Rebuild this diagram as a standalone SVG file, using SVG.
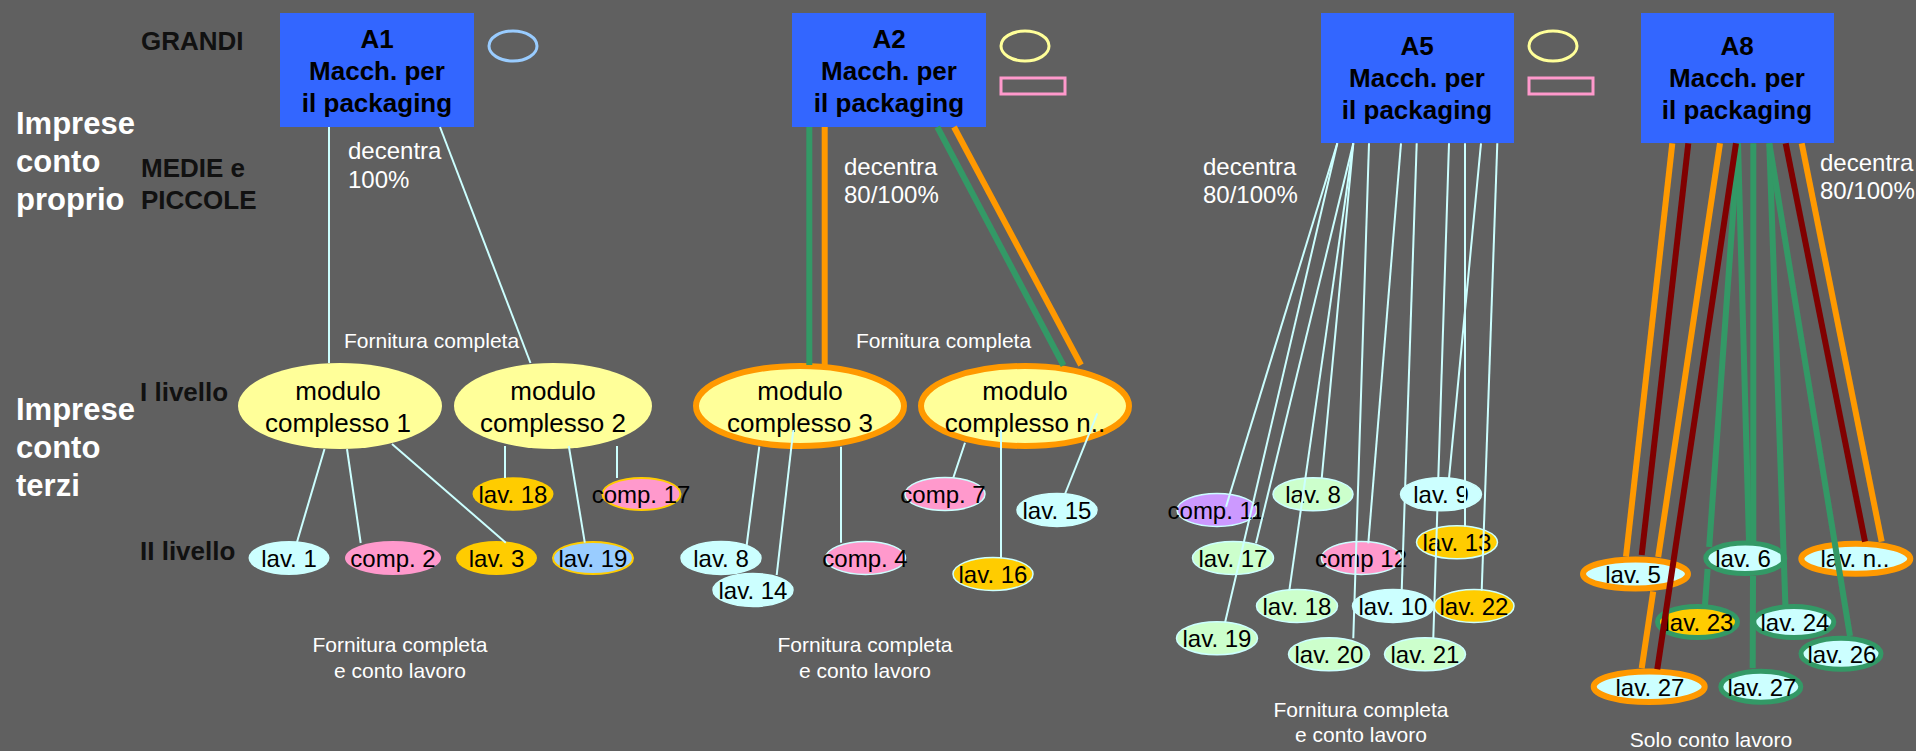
<svg xmlns="http://www.w3.org/2000/svg" width="1916" height="751" viewBox="0 0 1916 751">
<style>
text{font-family:"Liberation Sans",Arial,sans-serif}
.box{fill:#3366FF}
.bt{font-size:26px;font-weight:bold;fill:#000;text-anchor:middle}
.lbl{font-size:26px;font-weight:bold;fill:#111}
.big{font-size:31px;font-weight:bold;fill:#fff}
.note{font-size:24px;fill:#fff}
.note2{font-size:21px;fill:#fff}
.c2{text-anchor:middle}
.nt{font-size:24px;fill:#000;text-anchor:middle}
.mt{font-size:26px;fill:#000;text-anchor:middle}
.mod{fill:#FFFF99}
.modo{fill:#FFFF99;stroke:#FF9900;stroke-width:6}
.cy{fill:#CCFFFF}.pk{fill:#FF99CC}.gd{fill:#FFCC00}.lb{fill:#99CCFF}.lg{fill:#CCFFCC}.lv{fill:#CC99FF}
.sb{stroke:#CCFFFF;stroke-width:1.5}
.sy{stroke:#FFCC00;stroke-width:2}
.so{stroke:#FF9900;stroke-width:6}
.sg{stroke:#339966;stroke-width:5}
.t{stroke:#CCFFFF;stroke-width:2;fill:none}
.G{stroke:#339966;stroke-width:6;fill:none}
.O{stroke:#FF9900;stroke-width:6;fill:none}
.R{stroke:#800000;stroke-width:6;fill:none}
</style>
<rect x="0" y="0" width="1916" height="751" fill="#606060"/>

<g id="labels">
<text class="lbl" x="141" y="50">GRANDI</text>
<text class="lbl" x="141" y="177">MEDIE e</text>
<text class="lbl" x="141" y="209">PICCOLE</text>
<text class="big" x="16" y="134">Imprese</text>
<text class="big" x="16" y="172">conto</text>
<text class="big" x="16" y="210">proprio</text>
<text class="lbl" x="140" y="401">I livello</text>
<text class="lbl" x="140" y="560">II livello</text>
<text class="big" x="16" y="420">Imprese</text>
<text class="big" x="16" y="458">conto</text>
<text class="big" x="16" y="496">terzi</text>
<text class="note" x="348" y="159">decentra</text>
<text class="note" x="348" y="188">100%</text>
<text class="note" x="844" y="175">decentra</text>
<text class="note" x="844" y="203">80/100%</text>
<text class="note" x="1203" y="175">decentra</text>
<text class="note" x="1203" y="203">80/100%</text>
<text class="note" x="1820" y="171">decentra</text>
<text class="note" x="1820" y="199">80/100%</text>
<text class="note2" x="344" y="348">Fornitura completa</text>
<text class="note2" x="856" y="348">Fornitura completa</text>
<text class="note2 c2" x="400" y="652">Fornitura completa</text>
<text class="note2 c2" x="400" y="678">e conto lavoro</text>
<text class="note2 c2" x="865" y="652">Fornitura completa</text>
<text class="note2 c2" x="865" y="678">e conto lavoro</text>
<text class="note2 c2" x="1361" y="717">Fornitura completa</text>
<text class="note2 c2" x="1361" y="742">e conto lavoro</text>
<text class="note2 c2" x="1711" y="747">Solo conto lavoro</text>
</g>

<g id="legend">
<ellipse cx="513" cy="46" rx="24" ry="15" fill="none" stroke="#99CCFF" stroke-width="3"/>
<ellipse cx="1025" cy="46" rx="24" ry="15" fill="none" stroke="#FFFF99" stroke-width="3"/>
<rect x="1001" y="78" width="64" height="16" fill="none" stroke="#FF99CC" stroke-width="3"/>
<ellipse cx="1553" cy="46" rx="24" ry="15" fill="none" stroke="#FFFF99" stroke-width="3"/>
<rect x="1529" y="78" width="64" height="16" fill="none" stroke="#FF99CC" stroke-width="3"/>
</g>

<g id="A1"><rect class="box" x="280" y="13" width="194" height="114"/>
<text class="bt" x="377" y="48">A1</text><text class="bt" x="377" y="80">Macch. per</text><text class="bt" x="377" y="112">il packaging</text></g>
<g id="A2"><rect class="box" x="792" y="13" width="194" height="114"/>
<text class="bt" x="889" y="48">A2</text><text class="bt" x="889" y="80">Macch. per</text><text class="bt" x="889" y="112">il packaging</text></g>
<g id="A5"><rect class="box" x="1321" y="13" width="193" height="130"/>
<text class="bt" x="1417" y="55">A5</text><text class="bt" x="1417" y="87">Macch. per</text><text class="bt" x="1417" y="119">il packaging</text></g>
<g id="A8"><rect class="box" x="1641" y="13" width="193" height="130"/>
<text class="bt" x="1737" y="55">A8</text><text class="bt" x="1737" y="87">Macch. per</text><text class="bt" x="1737" y="119">il packaging</text></g>

<g id="mod1"><ellipse class="mod" cx="340" cy="406" rx="102" ry="43"/><text class="mt" x="338" y="400">modulo</text><text class="mt" x="338" y="432">complesso 1</text></g>
<g id="mod2"><ellipse class="mod" cx="553" cy="406" rx="99" ry="43"/><text class="mt" x="553" y="400">modulo</text><text class="mt" x="553" y="432">complesso 2</text></g>
<g id="mod3"><ellipse class="modo" cx="800" cy="406" rx="104" ry="40"/><text class="mt" x="800" y="400">modulo</text><text class="mt" x="800" y="432">complesso 3</text></g>
<g id="modn"><ellipse class="modo" cx="1025" cy="406" rx="104" ry="40"/><text class="mt" x="1025" y="400">modulo</text><text class="mt" x="1025" y="432">complesso n..</text></g>

<g id="n-lav1"><ellipse class="cy" cx="289" cy="558" rx="40.5" ry="17"/><text class="nt" x="289" y="567">lav. 1</text></g>
<g id="n-comp2"><ellipse class="pk" cx="393" cy="558" rx="48" ry="17"/><text class="nt" x="393" y="567">comp. 2</text></g>
<g id="n-lav3"><ellipse class="gd" cx="496.5" cy="558" rx="40.5" ry="17"/><text class="nt" x="496.5" y="567">lav. 3</text></g>
<g id="n-lav19a"><ellipse class="lb sy" cx="593" cy="558" rx="40" ry="16"/><text class="nt" x="593" y="567">lav. 19</text></g>
<g id="n-lav18a"><ellipse class="gd" cx="513" cy="494" rx="40.5" ry="16.7"/><text class="nt" x="513" y="503">lav. 18</text></g>
<g id="n-comp17"><ellipse class="pk sy" cx="641.5" cy="494" rx="39" ry="16"/><text class="nt" x="641" y="503">comp. 17</text></g>

<g id="n-lav8a"><ellipse class="cy sb" cx="721" cy="558" rx="40" ry="16.5"/><text class="nt" x="721" y="567">lav. 8</text></g>
<g id="n-lav14"><ellipse class="cy sb" cx="753" cy="590" rx="40" ry="16.5"/><text class="nt" x="753" y="599">lav. 14</text></g>
<g id="n-comp4"><ellipse class="pk sb" cx="865.5" cy="558" rx="40" ry="16.5"/><text class="nt" x="865" y="567">comp. 4</text></g>
<g id="n-comp7"><ellipse class="pk sb" cx="945" cy="494" rx="40" ry="16.5"/><text class="nt" x="943" y="503">comp. 7</text></g>
<g id="n-lav15"><ellipse class="cy sb" cx="1057" cy="510" rx="40" ry="16.5"/><text class="nt" x="1057" y="519">lav. 15</text></g>
<g id="n-lav16"><ellipse class="gd sb" cx="993" cy="574" rx="40" ry="16.5"/><text class="nt" x="993" y="583">lav. 16</text></g>

<g id="n-comp11"><ellipse class="lv sb" cx="1217" cy="510" rx="40" ry="16.5"/><text class="nt" x="1216" y="519">comp. 11</text></g>
<g id="n-lav8b"><ellipse class="lg sb" cx="1313" cy="494.3" rx="40" ry="16.5"/><text class="nt" x="1313" y="503">lav. 8</text></g>
<g id="n-lav9"><ellipse class="cy sb" cx="1441" cy="494.3" rx="40.5" ry="16.5"/><text class="nt" x="1441" y="503">lav. 9</text></g>
<g id="n-lav17"><ellipse class="lg sb" cx="1233" cy="558" rx="40.5" ry="16.5"/><text class="nt" x="1233" y="567">lav. 17</text></g>
<g id="n-comp12"><ellipse class="pk sb" cx="1361.3" cy="558" rx="40" ry="16.5"/><text class="nt" x="1361" y="567">comp 12</text></g>
<g id="n-lav13"><ellipse class="gd sb" cx="1457" cy="542.3" rx="40.5" ry="16.5"/><text class="nt" x="1457" y="551">lav. 13</text></g>
<g id="n-lav18b"><ellipse class="lg sb" cx="1297" cy="606" rx="40.5" ry="16.5"/><text class="nt" x="1297" y="615">lav. 18</text></g>
<g id="n-lav10"><ellipse class="cy sb" cx="1393" cy="606" rx="40.5" ry="16.5"/><text class="nt" x="1393" y="615">lav. 10</text></g>
<g id="n-lav22"><ellipse class="gd sb" cx="1474" cy="606" rx="40" ry="16.5"/><text class="nt" x="1474" y="615">lav. 22</text></g>
<g id="n-lav19b"><ellipse class="lg sb" cx="1217" cy="638.3" rx="40.5" ry="16.5"/><text class="nt" x="1217" y="647">lav. 19</text></g>
<g id="n-lav20"><ellipse class="lg sb" cx="1329" cy="654.3" rx="40.5" ry="16.5"/><text class="nt" x="1329" y="663">lav. 20</text></g>
<g id="n-lav21"><ellipse class="lg sb" cx="1425" cy="654.3" rx="40.5" ry="16.5"/><text class="nt" x="1425" y="663">lav. 21</text></g>

<g id="n-lav5"><ellipse class="cy so" cx="1635.5" cy="574" rx="52.5" ry="14.5"/><text class="nt" x="1633" y="582.5">lav. 5</text></g>
<g id="n-lav6"><ellipse class="cy sg" cx="1745.3" cy="558.3" rx="39.5" ry="15.2"/><text class="nt" x="1743" y="567">lav. 6</text></g>
<g id="n-lavn"><ellipse class="cy so" cx="1855.8" cy="558.7" rx="54.5" ry="15"/><text class="nt" x="1855" y="567">lav. n..</text></g>
<g id="n-lav23"><ellipse class="gd sg" cx="1697.5" cy="622" rx="40" ry="15.5"/><text class="nt" x="1699" y="631">lav. 23</text></g>
<g id="n-lav24"><ellipse class="cy sg" cx="1793.8" cy="622" rx="40" ry="15.5"/><text class="nt" x="1795" y="631">lav. 24</text></g>
<g id="n-lav26"><ellipse class="cy sg" cx="1841" cy="653.8" rx="40" ry="15.5"/><text class="nt" x="1842" y="663">lav. 26</text></g>
<g id="n-lav27a"><ellipse class="cy so" cx="1649.2" cy="686.7" rx="55.5" ry="15.3"/><text class="nt" x="1650" y="695.5">lav. 27</text></g>
<g id="n-lav27b"><ellipse class="cy sg" cx="1760.8" cy="686.7" rx="40" ry="15.5"/><text class="nt" x="1762" y="695.5">lav. 27</text></g>

<g id="connectors">
<line class="t" x1="329" y1="127" x2="329" y2="363"/>
<line class="t" x1="440" y1="127" x2="530.5" y2="363"/>
<line class="t" x1="324.5" y1="449" x2="297" y2="542"/>
<line class="t" x1="347" y1="449" x2="360.7" y2="543"/>
<line class="t" x1="392" y1="444" x2="505.8" y2="542.7"/>
<line class="t" x1="505" y1="446" x2="505" y2="478"/>
<line class="t" x1="568.8" y1="446" x2="584.8" y2="542.7"/>
<line class="t" x1="617" y1="446" x2="617" y2="478"/>

<line class="G" x1="809.3" y1="127" x2="809.3" y2="365"/>
<line class="O" x1="824.7" y1="127" x2="824.7" y2="365"/>
<line class="G" x1="937.3" y1="127" x2="1063.5" y2="365.5"/>
<line class="O" x1="954" y1="127" x2="1081" y2="365"/>
<line class="t" x1="759.3" y1="446.7" x2="746.7" y2="545"/>
<line class="t" x1="793.3" y1="430" x2="776.7" y2="575"/>
<line class="t" x1="841" y1="446.7" x2="841" y2="542.7"/>
<line class="t" x1="965" y1="442.7" x2="953.3" y2="477.7"/>
<line class="t" x1="1001" y1="430" x2="1001" y2="558.3"/>
<line class="t" x1="1097.3" y1="413.3" x2="1065" y2="494"/>

<line class="t" x1="1337.3" y1="143.3" x2="1226" y2="506.7"/>
<line class="t" x1="1337.3" y1="143.3" x2="1225" y2="622.7"/>
<line class="t" x1="1353.3" y1="143.3" x2="1256" y2="543.3"/>
<line class="t" x1="1353.3" y1="143.3" x2="1289.3" y2="590.7"/>
<line class="t" x1="1353.3" y1="143.3" x2="1321.7" y2="478.3"/>
<line class="t" x1="1369" y1="143.3" x2="1353.3" y2="638.3"/>
<line class="t" x1="1401" y1="143.3" x2="1368.3" y2="543.3"/>
<line class="t" x1="1416.7" y1="143.3" x2="1401.7" y2="590.7"/>
<line class="t" x1="1449" y1="143.3" x2="1438.3" y2="478.3"/>
<line class="t" x1="1437.3" y1="511" x2="1433.3" y2="638.3"/>
<line class="t" x1="1481" y1="143.3" x2="1449" y2="478.3"/>
<line class="t" x1="1465" y1="143.3" x2="1465" y2="526.7"/>
<line class="t" x1="1497.3" y1="143.3" x2="1481.7" y2="590.7"/>

<line class="G" x1="1738" y1="143.3" x2="1709.2" y2="547"/>
<line class="G" x1="1707.6" y1="569" x2="1705" y2="605"/>
<line class="G" x1="1738" y1="143.3" x2="1749" y2="541"/>
<line class="G" x1="1753.3" y1="143.3" x2="1753.3" y2="541"/>
<line class="G" x1="1753" y1="576" x2="1752.7" y2="668.3"/>
<line class="G" x1="1769.3" y1="143.3" x2="1785.4" y2="605"/>
<line class="G" x1="1769.3" y1="143.3" x2="1850" y2="636"/>
<line class="O" x1="1672.3" y1="143.3" x2="1626" y2="556.7"/>
<line class="R" x1="1688.3" y1="143.3" x2="1641.7" y2="555"/>
<line class="O" x1="1720" y1="143.3" x2="1658.2" y2="557"/>
<line class="O" x1="1653.2" y1="591.5" x2="1641.7" y2="668.3"/>
<line class="R" x1="1736" y1="143.3" x2="1657.3" y2="669.3"/>
<line class="R" x1="1785.7" y1="143.3" x2="1865" y2="541.7"/>
<line class="O" x1="1801.7" y1="143.3" x2="1881.7" y2="541.7"/>
</g>
</svg>
